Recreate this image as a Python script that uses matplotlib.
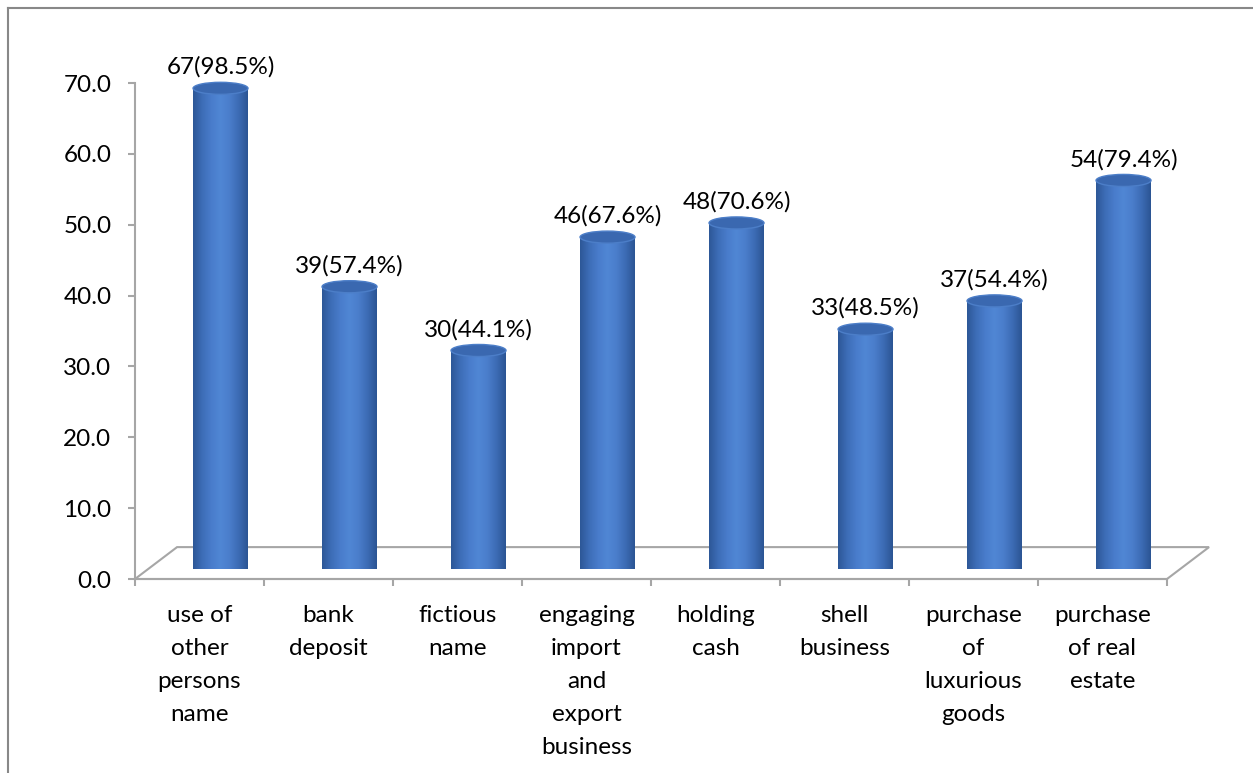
import numpy as np
import matplotlib
matplotlib.use("Agg")
import matplotlib.pyplot as plt
from matplotlib.patches import Ellipse, PathPatch, Polygon
from matplotlib.path import Path
from matplotlib.lines import Line2D
from matplotlib.colors import LinearSegmentedColormap

plt.rcParams['font.family'] = ['Lato', 'DejaVu Sans']

# data
categories = ["use of\nother\npersons\nname", "bank\ndeposit", "fictious\nname",
              "engaging\nimport\nand\nexport\nbusiness", "holding\ncash",
              "shell\nbusiness", "purchase\nof\nluxurious\ngoods",
              "purchase\nof real\nestate"]
counts = [67, 39, 30, 46, 48, 33, 37, 54]
percents = [98.5, 57.4, 44.1, 67.6, 70.6, 48.5, 54.4, 79.4]
yticks = [0, 10, 20, 30, 40, 50, 60, 70]

W, H = 1253, 773
FS = 17.5
fig = plt.figure(figsize=(W / 100, H / 100), dpi=100)
ax = fig.add_axes([135 / W, (H - 579) / H, 1032 / W, 496 / H])

grey = "#a6a6a6"
# depth of the 3d floor in data units
DX, DY = 0.326, 4.5
hw = 0.213      # cylinder half width
eh = 0.85       # ellipse half height

# floor
n = len(categories)
floor = Polygon([(-0.5, 0), (n - 0.5, 0), (n - 0.5 + DX, DY), (-0.5 + DX, DY)],
                closed=True, facecolor="white", edgecolor=grey, lw=1.5, clip_on=False, zorder=1)
ax.add_patch(floor)

cmap = LinearSegmentedColormap.from_list(
    "cyl", ["#2d5797", "#3d6db7", "#497ccb", "#5087d4", "#4a7dcb", "#3c6bb4", "#2b5493"])
grad = np.linspace(0, 1, 256).reshape(1, -1)

for i, (v, p) in enumerate(zip(counts, percents)):
    cx = i + DX / 2
    y0 = DY / 2
    y1 = v + DY / 2
    t = np.linspace(np.pi, 2 * np.pi, 40)
    bottom = np.column_stack([cx + hw * np.cos(t), y0 + eh * np.sin(t)])
    verts = np.vstack([[cx - hw, y1], bottom, [cx + hw, y1], [cx - hw, y1]])
    body = PathPatch(Path(verts, closed=True), facecolor="none", edgecolor="none", clip_on=False)
    ax.add_patch(body)
    im = ax.imshow(grad, cmap=cmap, aspect="auto",
                   extent=[cx - hw, cx + hw, y0 - eh, y1], zorder=2, clip_on=False)
    im.set_clip_path(body)
    top = Ellipse((cx, y1), 2 * hw, 2 * eh, facecolor="#3a68b0",
                  edgecolor="#4c7ec8", lw=1.0, zorder=3, clip_on=False)
    ax.add_patch(top)
    ax.text(cx, y1 + eh + 0.6, f"{v}({p}%)", ha="center", va="bottom",
            fontsize=FS, color="black", zorder=4)

ax.set_xlim(-0.5, n - 0.5)
ax.set_ylim(0, 70)

for s in ["top", "right"]:
    ax.spines[s].set_visible(False)
for s in ["left", "bottom"]:
    ax.spines[s].set_color(grey)
    ax.spines[s].set_linewidth(1.5)
ax.set_facecolor("none")

ax.set_yticks(yticks)
ax.set_yticklabels([f"{t:.1f}" for t in yticks], fontsize=FS)
ax.tick_params(axis="y", length=5, color=grey, width=1.5, pad=12)

ax.set_xticks(range(n))
ax.set_xticklabels(categories, fontsize=FS, linespacing=1.7, va="top")
ax.set_xticks(np.arange(-0.5, n), minor=True)
ax.tick_params(axis="x", which="major", length=0, pad=19)
ax.tick_params(axis="x", which="minor", length=5, color=grey, width=1.5)

# outer frame
fig.add_artist(Line2D([8 / W, 1], [1 - 8 / H, 1 - 8 / H], color="#888888", lw=1.5))
fig.add_artist(Line2D([8 / W, 8 / W], [1 - 8 / H, 0], color="#888888", lw=1.5))

fig.savefig("out.png", dpi=100)
